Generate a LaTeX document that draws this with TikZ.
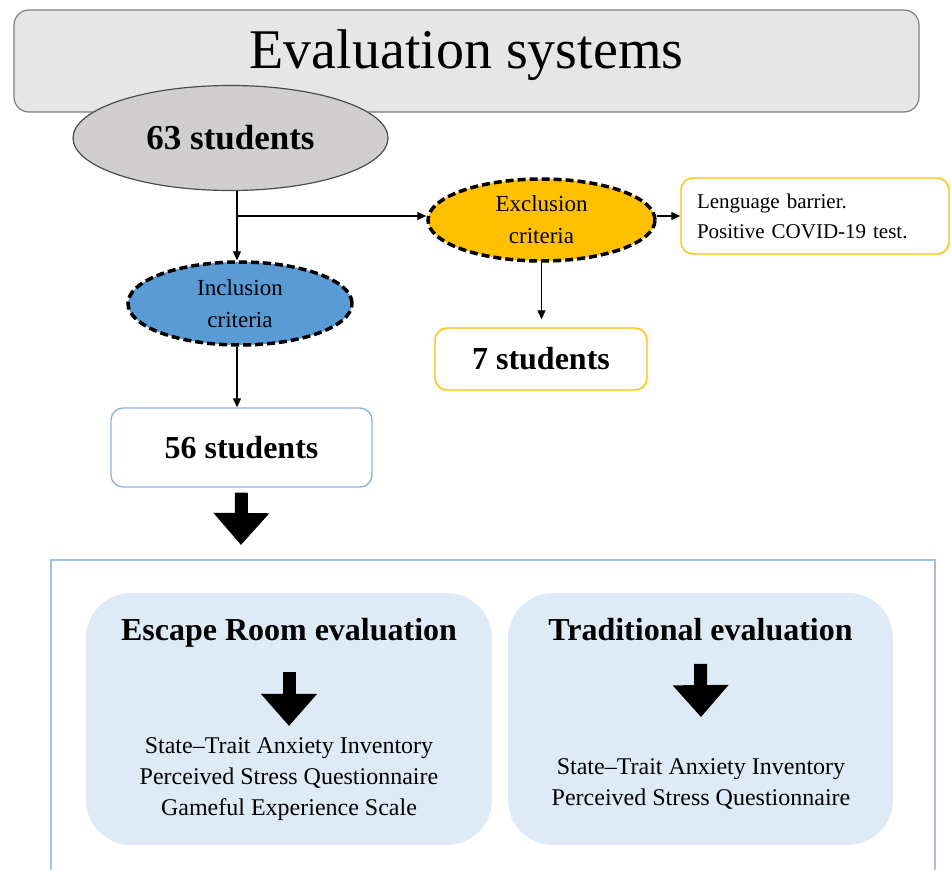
\documentclass[tikz,border=0pt]{standalone}
\usepackage{fontspec}
\setmainfont{Liberation Serif}
\usepackage{tikz}
\usetikzlibrary{shapes.geometric,arrows.meta}

\definecolor{titlegray}{HTML}{E7E6E6}
\definecolor{bordergray}{HTML}{7F7F7F}
\definecolor{startgray}{HTML}{D0CECE}
\definecolor{exclgold}{HTML}{FFC000}
\definecolor{inclblue}{HTML}{5B9BD5}
\definecolor{boxblue}{HTML}{8FB4E3}
\definecolor{framblue}{HTML}{9DC3E6}
\definecolor{paleblue}{HTML}{DEEBF7}

\tikzset{
  arr/.style={line width=1.3pt,-{Triangle[length=9pt,width=8pt]}},
  bigarr/.style={line width=13pt,-{Triangle[length=32pt,width=54pt]}},
  critnode/.style={ellipse,draw=black,line width=3.5pt,dash pattern=on 8pt off 4pt,align=center,font=\fontsize{23}{32}\selectfont},
  countbox/.style={rounded corners=12pt,draw,line width=1.4pt,fill=white,font=\bfseries\fontsize{32}{36}\selectfont},
  evalbox/.style={rounded corners=45pt,fill=paleblue},
  listtext/.style={align=center,font=\fontsize{24}{31}\selectfont}
}

\begin{document}
\begin{tikzpicture}[x=1pt,y=-1pt]
\useasboundingbox (0,0) rectangle (951,870);

\node[rounded corners=15pt,draw=bordergray,line width=1.2pt,fill=titlegray,minimum width=905pt,minimum height=102pt,text depth=24pt,font=\fontsize{56}{60}\selectfont] (title) at (466.5,61) {Evaluation systems};

\node[ellipse,draw=black!70,line width=1.2pt,fill=startgray,minimum width=315pt,minimum height=105pt,font=\bfseries\fontsize{35}{40}\selectfont] (s63) at (230.5,138) {63 students};

% inclusion / exclusion
\node[critnode,fill=exclgold,minimum width=227pt,minimum height=82pt] (excl) at (541.5,220) {Exclusion\\criteria};
\node[critnode,fill=inclblue,minimum width=224pt,minimum height=83pt] (incl) at (240,303.5) {Inclusion\\criteria};

\node[rounded corners=12pt,draw=exclgold,line width=1.4pt,fill=white,text width=236pt,inner xsep=16pt,minimum height=76pt,align=left,font=\fontsize{21}{30}\selectfont] (lang) at (815,216) {Lenguage barrier.\\Positive COVID-19 test.};

\node[countbox,draw=exclgold,minimum width=212pt,minimum height=62pt] (s7) at (541,359) {7 students};
\node[countbox,draw=boxblue,minimum width=261pt,minimum height=79pt] (s56) at (241.5,447.5) {56 students};

\coordinate (split) at (237,216);
\draw[line width=1.3pt] (split |- s63.south) -- (split);
\draw[arr] (split) -- (split -| excl.west);
\draw[arr] (split) -- (split |- incl.north);
\draw[arr] (lang.west -| excl.east) -- (lang.west);
\draw[arr] (excl.south) -- ([yshift=8pt]excl.south |- s7.north);
\draw[arr] (split |- incl.south) -- (split |- s56.north);

% evaluations
\coordinate (frametop) at (241,560);
\draw[framblue,line width=1.5pt] (51,870) -- (51,560) -- (935,560) -- (935,870);
\draw[bigarr] ([yshift=-5pt]s56.south) -- ([yshift=15pt]frametop);

\node[evalbox,minimum width=406pt,minimum height=252pt] (er) at (289,719) {};
\node[evalbox,minimum width=385pt,minimum height=252pt] (tr) at (700.5,719) {};

\node[font=\bfseries\fontsize{32}{36}\selectfont] (ertitle) at (289,633) {Escape Room evaluation};
\node[font=\bfseries\fontsize{32}{36}\selectfont] (trtitle) at (700.5,630) {Traditional evaluation};

\node[listtext] (erlist) at (289,779) {State–Trait Anxiety Inventory\\Perceived Stress Questionnaire\\Gameful Experience Scale};
\node[listtext] (trlist) at (701,784) {State–Trait Anxiety Inventory\\Perceived Stress Questionnaire};

\draw[bigarr] ([yshift=-21pt]ertitle.south) -- ([yshift=8pt]erlist.north);
\draw[bigarr] ([yshift=-19pt]trtitle.south) -- ([yshift=38pt]trlist.north);

\end{tikzpicture}
\end{document}
